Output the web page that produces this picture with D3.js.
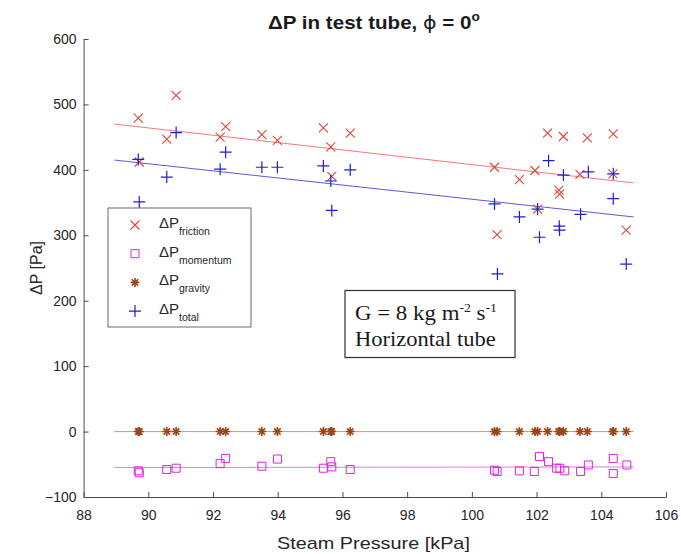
<!DOCTYPE html>
<html><head><meta charset="utf-8">
<script src="https://cdn.jsdelivr.net/npm/d3@7"></script>
<style>body{margin:0;background:#fff}svg{display:block}</style>
</head><body>
<svg id="c" width="681" height="554"></svg>
<script>
// ---- data ----
const xTicks = [88, 90, 92, 94, 96, 98, 100, 102, 104, 106];
const yTicks = [-100, 0, 100, 200, 300, 400, 500, 600];

const frictionX = [89.69, 89.72, 90.57, 90.86, 92.22, 92.39, 93.51, 93.99, 95.41, 95.64, 95.67, 96.24,
  100.70, 100.78, 101.47, 101.95, 102.03, 102.34, 102.69, 102.71, 102.83, 103.34, 103.57, 104.36, 104.37, 104.77];
const frictionY = [479, 412, 447, 514, 450, 466, 454, 445, 464, 435, 390, 456,
  404, 301, 385, 399, 340, 456, 369, 363, 451, 393, 449, 394, 455, 308];

const totalX = [89.69, 89.72, 90.57, 90.86, 92.22, 92.39, 93.51, 93.99, 95.41, 95.64, 95.67, 96.24,
  100.70, 100.79, 101.47, 102.03, 102.09, 102.37, 102.70, 102.71, 102.83, 103.36, 103.60, 104.37, 104.37, 104.77];
const totalY = [416, 351, 389, 457, 401, 427, 404, 404, 406, 383, 338, 400,
  348, 241, 328, 340, 297, 414, 314, 308, 392, 332, 397, 394, 356, 256];

const momentumX = [89.69, 89.72, 90.57, 90.86, 92.22, 92.39, 93.51, 93.99, 95.41, 95.64, 95.67, 96.24,
  100.70, 100.78, 101.47, 101.93, 102.09, 102.37, 102.62, 102.72, 102.87, 103.36, 103.60, 104.37, 104.37, 104.79];
const momentumY = [-60, -63, -58, -56, -49, -41, -53, -42, -56, -46, -54, -58,
  -59, -61, -60, -61, -38, -46, -56, -56, -60, -61, -51, -41, -64, -51];

const gravityX = frictionX.slice();
const gravityY = frictionX.map(() => 0);

const fitX = [88.95, 105.0];
const frictionFit = [470, 380];
const totalFit = [415, 328];
const momentumFit = [-55, -54];
const gravityFit = [0, 0];

// ---- layout ----
const svg = d3.select('#c');
const L = 83.6, R = 666, T = 39, B = 497;
const x = d3.scaleLinear().domain([88, 106]).range([L, R]);
const y = d3.scaleLinear().domain([-100, 600]).range([B, T]);
const axisCol = '#4d4d4d', textCol = '#262626';
const font = 'Liberation Sans, Arial, sans-serif';

// stretch a text horizontally so it spans [x0, x0+w]
function fitWidth(sel, x0, w) {
  const bb = sel.node().getBBox();
  const s = w / bb.width;
  sel.attr('transform', `translate(${x0},0) scale(${s},1) translate(${-bb.x},0)`);
}

// axes
const gx = svg.append('g').attr('transform', `translate(0,${B})`)
  .call(d3.axisBottom(x).tickValues(xTicks).tickSizeInner(-5).tickSizeOuter(0).tickPadding(13));
const gy = svg.append('g').attr('transform', `translate(${L},0)`)
  .call(d3.axisLeft(y).tickValues(yTicks).tickSizeInner(-5).tickSizeOuter(0).tickPadding(7));
[gx, gy].forEach(g => {
  g.select('.domain').attr('stroke', axisCol);
  g.selectAll('.tick line').attr('stroke', axisCol);
  g.selectAll('.tick text').attr('fill', textCol).style('font-family', font).style('font-size', '14px');
});

// labels
const xl = svg.append('text').attr('x', 0).attr('y', 549)
  .style('font-family', font).style('font-size', '16px').attr('fill', textCol).text('Steam Pressure [kPa]');
fitWidth(xl, 277, 193);
svg.append('text').attr('transform', `translate(42,${(T + B) / 2}) rotate(-90)`).attr('text-anchor', 'middle')
  .style('font-family', font).style('font-size', '16px').attr('fill', textCol).text('ΔP [Pa]');
const title = svg.append('text').attr('x', 0).attr('y', 29)
  .style('font-family', font).style('font-size', '18px').style('font-weight', 'bold').attr('fill', '#1a1a1a');
title.append('tspan').text('ΔP in test tube, ');
title.append('tspan').style('font-family', 'DejaVu Sans, sans-serif').style('font-weight', 'normal').text('ϕ');
title.append('tspan').text(' = 0');
title.append('tspan').attr('dy', -8).style('font-size', '12px').text('o');
fitWidth(title, 268, 212);

// fit lines
function fitLine(vals, col) {
  svg.append('path').datum(fitX.map((v, i) => [v, vals[i]]))
    .attr('d', d3.line().x(d => x(d[0])).y(d => y(d[1])))
    .attr('fill', 'none').attr('stroke', col).attr('stroke-width', 1);
}
fitLine(gravityFit, '#e8906a');
fitLine(momentumFit, '#e67ae6');
fitLine(frictionFit, '#f07a7a');
fitLine(totalFit, '#5a5ad8');

// markers
const shapes = {
  x: 'M-4.5,-4.5L4.5,4.5M-4.5,4.5L4.5,-4.5',
  plus: 'M-6,0H6M0,-6V6',
  star: 'M-4.5,0H4.5M0,-4.5V4.5M-3.2,-3.2L3.2,3.2M-3.2,3.2L3.2,-3.2',
  square: 'M-4,-4H4V4H-4Z'
};
function markers(xs, ys, shape, col, w) {
  svg.append('g').selectAll('path').data(xs.map((v, i) => [v, ys[i]])).join('path')
    .attr('transform', d => `translate(${x(d[0])},${y(d[1])})`)
    .attr('d', shapes[shape]).attr('fill', 'none').attr('stroke', col).attr('stroke-width', w);
}
markers(gravityX, gravityY, 'star', '#9a4418', 1.6);
markers(momentumX, momentumY, 'square', '#e020e0', 1);
markers(frictionX, frictionY, 'x', '#e0443c', 1.1);
markers(totalX, totalY, 'plus', '#1f1fd0', 1.2);

// legend
const lg = svg.append('g');
lg.append('rect').attr('x', 108).attr('y', 208).attr('width', 143).attr('height', 119)
  .attr('fill', '#fff').attr('stroke', '#6b6b6b').attr('stroke-width', 1);
const legendItems = [
  {shape: 'x', col: '#e0443c', w: 1.1, sub: 'friction'},
  {shape: 'square', col: '#e020e0', w: 1, sub: 'momentum'},
  {shape: 'star', col: '#9a4418', w: 1.6, sub: 'gravity'},
  {shape: 'plus', col: '#1f1fd0', w: 1.2, sub: 'total'}
];
legendItems.forEach((it, i) => {
  const cy = 225 + i * 28.7;
  lg.append('path').attr('transform', `translate(135,${cy})`).attr('d', shapes[it.shape])
    .attr('fill', 'none').attr('stroke', it.col).attr('stroke-width', it.w);
  const t = lg.append('text').attr('x', 159).attr('y', cy + 3).attr('fill', textCol)
    .style('font-family', font).style('font-size', '15px');
  t.append('tspan').text('ΔP');
  t.append('tspan').attr('dy', 7).style('font-size', '10.5px').text(it.sub);
});

// annotation box
const ab = svg.append('g');
ab.append('rect').attr('x', 345).attr('y', 290.5).attr('width', 170).attr('height', 67)
  .attr('fill', '#fff').attr('stroke', '#333').attr('stroke-width', 1.2);
const serif = 'Liberation Serif, Times New Roman, serif';
const t1 = ab.append('text').attr('x', 0).attr('y', 320).attr('fill', '#1a1a1a')
  .style('font-family', serif).style('font-size', '20px');
t1.append('tspan').text('G = 8 kg m');
t1.append('tspan').attr('dy', -8).style('font-size', '12px').text('-2');
t1.append('tspan').attr('dy', 8).text(' s');
t1.append('tspan').attr('dy', -8).style('font-size', '12px').text('-1');
fitWidth(t1, 355, 142);
const t2 = ab.append('text').attr('x', 0).attr('y', 346).attr('fill', '#1a1a1a')
  .style('font-family', serif).style('font-size', '20px').text('Horizontal tube');
fitWidth(t2, 355, 141);
</script>
</body></html>
